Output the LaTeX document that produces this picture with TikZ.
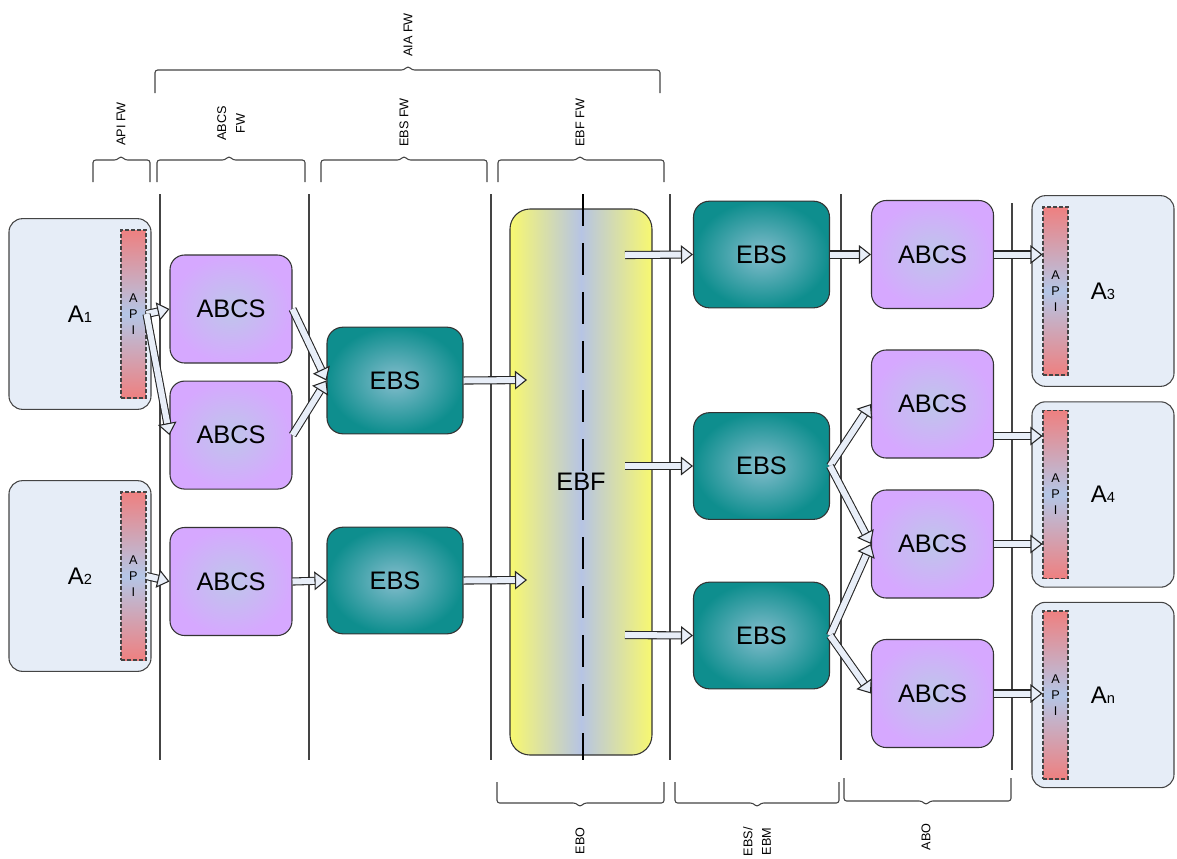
\documentclass[tikz,border=0pt]{standalone}
\usepackage{fontspec}
\setmainfont{Liberation Sans}
\usepackage{xcolor}
\usepackage{tikz}
\usetikzlibrary{positioning, shapes, arrows.meta}

\definecolor{appfill}{HTML}{E6EDF7}
\definecolor{apired}{HTML}{EE8080}
\definecolor{apimid}{HTML}{B4C6E6}
\definecolor{abcsout}{HTML}{D6A8FF}
\definecolor{abcsin}{HTML}{BEC6EA}
\definecolor{ebsout}{HTML}{0E8E8E}
\definecolor{ebsin}{HTML}{84BDCD}
\definecolor{ebfyel}{HTML}{F8F870}
\definecolor{ebfmid}{HTML}{B6C4E4}
\definecolor{arrfill}{HTML}{E8EEF8}
\definecolor{linegrey}{HTML}{444444}

\begin{document}
\begin{tikzpicture}[
    x=0.75pt, y=-0.75pt,
    appbox/.style={draw=linegrey, line width=0.8pt, rounded corners=10pt, fill=appfill, minimum width=106.5pt, minimum height=143pt, font=\fontsize{18}{20}\selectfont},
    apibar/.style={draw=linegrey, line width=1pt, dash pattern=on 3pt off 1.5pt, top color=apired, bottom color=apired, middle color=apimid, minimum width=18.75pt, minimum height=126pt, inner sep=0pt, align=center, font=\fontsize{9.5}{12}\selectfont},
    abcs/.style={draw=black!80, line width=0.8pt, rounded corners=11pt, inner color=abcsin, outer color=abcsout, minimum width=91.5pt, minimum height=81pt, font=\fontsize{19}{22}\selectfont},
    ebs/.style={draw=black!80, line width=0.8pt, rounded corners=12pt, inner color=ebsin, outer color=ebsout, minimum width=102pt, minimum height=80pt, font=\fontsize{19}{22}\selectfont},
    ebf/.style={draw=black!80, line width=0.8pt, rounded corners=15pt, left color=ebfyel, right color=ebfyel, middle color=ebfmid, minimum width=106.5pt, minimum height=409.5pt, font=\fontsize{19}{22}\selectfont},
    arr/.style={draw=black!85, line width=0.8pt, double=arrfill, double distance=4.5pt, -{Triangle[fill=arrfill, line width=0.8pt, length=9pt, width=14pt]}},
    lane/.style={draw=linegrey, line width=0.8pt},
    fwbrace/.style={draw=linegrey, line width=0.8pt, rounded corners=2pt},
    fwlabel/.style={rotate=90, inner sep=0pt, align=center, font=\fontsize{9.5}{14}\selectfont}
]
\useasboundingbox (0,0) rectangle (1177,858);

% Lanes
\foreach \x in {160, 309, 491, 670, 841}
  \draw[lane] (\x,194) -- (\x,760);
\draw[lane] (1012,203) -- (1012,770);

% Framework braces
\draw[fwbrace] (155,93) |- (404,70) -- (408,66) -- (412,70) -| (660,93);
\node[fwlabel, anchor=west] (aiafw) at (408,57) {AIA FW};
\foreach \xa/\xb/\xm in {93/150/121, 157/305/229, 321/487/404, 498/664/580}
  \draw[fwbrace] (\xa,182) |- (\xm-4,160) -- (\xm,156) -- (\xm+4,160) -| (\xb,182);
\node[fwlabel, anchor=west] (apifw) at (121,146) {API FW};
\node[fwlabel, anchor=west] (abcsfw) at (231,141) {ABCS\\FW};
\node[fwlabel, anchor=west] (ebsfw) at (404,147) {EBS FW};
\node[fwlabel, anchor=west] (ebffw) at (580,147) {EBF FW};

\foreach \xa/\xb/\xm/\ya/\yb in {497/664/580/782/803, 675/839/757/782/803, 844/1011/926/778/801}
  \draw[fwbrace] (\xa,\ya) |- (\xm-4,\yb) -- (\xm,\yb+4) -- (\xm+4,\yb) -| (\xb,\ya);
\node[fwlabel, anchor=east] (ebo) at (580,827) {EBO};
\node[fwlabel, anchor=east] (ebsebm) at (757,827) {EBS/\\EBM};
\node[fwlabel, anchor=east] (abo) at (926,823) {ABO};

% Source applications
\node[appbox] (a1) at (80,314) {A{\fontsize{11}{12}\selectfont 1}};
\node[apibar, left=3.75pt of a1.east] (api1) {A\\P\\I};
\node[appbox] (a2) at (80,576) {A{\fontsize{11}{12}\selectfont 2}};
\node[apibar, left=3.75pt of a2.east] (api2) {A\\P\\I};

% Requester side
\node[abcs] (abcs1) at (231,309) {ABCS};
\node[abcs, below=12.75pt of abcs1] (abcs2) {ABCS};
\node[abcs] (abcs3) at (231,581.5) {ABCS};
\node[ebs] (ebs1) at (395,380.5) {EBS};
\node[ebs] (ebs2) at (395,580.5) {EBS};

% Business framework
\node[ebf] (ebf) at (581,482) {EBF};
\draw[line width=1.5pt, dash pattern=on 24pt off 12.75pt] (583,194) -- (583,760);
\coordinate (ebfin1) at (527,380);
\coordinate (ebfin2) at (527,580);
\coordinate (ebfout1) at (625,255);
\coordinate (ebfout2) at (625,466);
\coordinate (ebfout3) at (625,635);

% Provider side
\node[ebs] (ebs3) at (761.5,254.5) {EBS};
\node[ebs] (ebs4) at (761.5,466) {EBS};
\node[ebs] (ebs5) at (761.5,635.5) {EBS};
\node[abcs] (abcs4) at (932.5,254.5) {ABCS};
\node[abcs] (abcs5) at (932.5,404) {ABCS};
\node[abcs] (abcs6) at (932.5,544) {ABCS};
\node[abcs] (abcs7) at (932.5,693.5) {ABCS};

% Target applications
\node[appbox] (a3) at (1103,291) {A{\fontsize{11}{12}\selectfont 3}};
\node[apibar, right=8.25pt of a3.west] (api3) {A\\P\\I};
\node[appbox, minimum height=139pt] (a4) at (1103,494.5) {A{\fontsize{11}{12}\selectfont 4}};
\node[apibar, right=8.25pt of a4.west] (api4) {A\\P\\I};
\node[appbox, minimum height=139pt] (an) at (1103,695) {A{\fontsize{11}{12}\selectfont n}};
\node[apibar, right=8.25pt of an.west] (apin) {A\\P\\I};

% Flows
\draw[arr] (api1.east) -- (abcs1.west);
\draw[arr] (api1.east) -- (abcs2.west);
\draw[arr] (api2.east) -- (abcs3.west);
\draw[arr] (abcs1.east) -- (ebs1.west);
\draw[arr] (abcs2.east) -- (ebs1.west);
\draw[arr] (abcs3.east) -- (ebs2.west);
\draw[arr] (ebs1.east) -- (ebfin1);
\draw[arr] (ebs2.east) -- (ebfin2);
\draw[arr] (ebfout1) -- (ebs3.west);
\draw[arr] (ebfout2) -- (ebs4.west);
\draw[arr] (ebfout3) -- (ebs5.west);
\draw[arr] (ebs3.east) -- (abcs4.west);
\draw[arr] (ebs4.east) -- (abcs5.west);
\draw[arr] (ebs4.east) -- (abcs6.west);
\draw[arr] (ebs5.east) -- (abcs6.west);
\draw[arr] (ebs5.east) -- (abcs7.west);
\draw[arr] (abcs4.east) -- (abcs4.east -| api3.west);
\draw[arr] ([yshift=-24pt]abcs5.east) -- ([yshift=-24pt]abcs5.east -| api4.west);
\draw[arr] (abcs6.east) -- (abcs6.east -| api4.west);
\draw[arr] (abcs7.east) -- (abcs7.east -| apin.west);

\end{tikzpicture}
\end{document}
